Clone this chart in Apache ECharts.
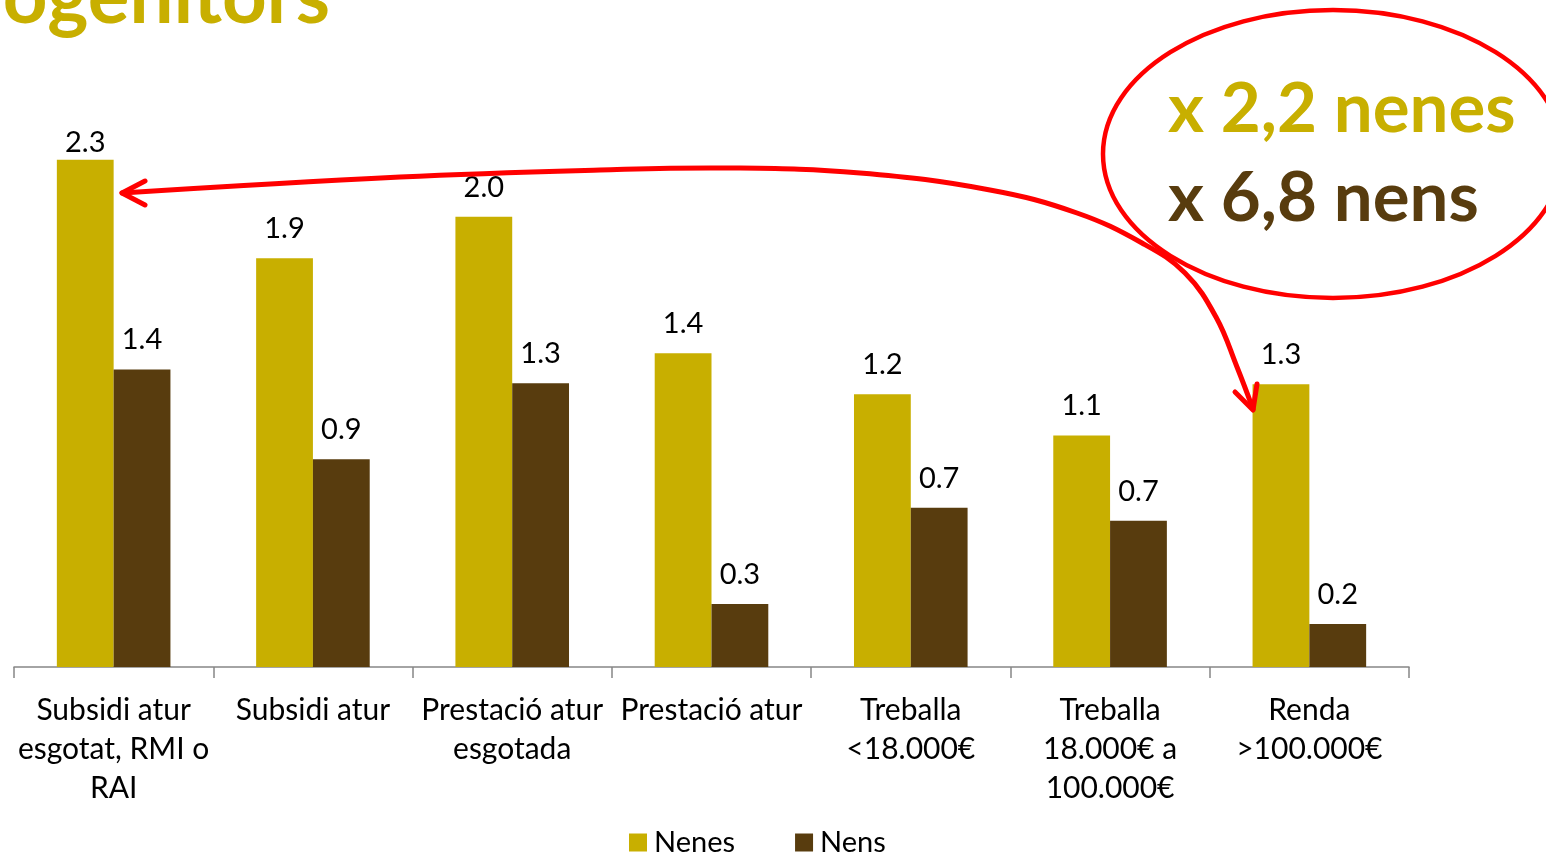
<!DOCTYPE html>
<html>
<head>
<meta charset="utf-8">
<title>Progenitors</title>
<script src="https://cdn.jsdelivr.net/npm/echarts@6/dist/echarts.min.js"></script>
<style>
  html, body { margin: 0; padding: 0; background: #fff; }
  #chart { width: 1546px; height: 853px; }
</style>
</head>
<body>
<div id="chart"></div>
<script>
// categories (situació del progenitor)
const categories = [
  'Subsidi atur\nesgotat, RMI o\nRAI',
  'Subsidi atur',
  'Prestació atur\nesgotada',
  'Prestació atur',
  'Treballa\n<18.000€',
  'Treballa\n18.000€ a\n100.000€',
  'Renda\n>100.000€',
];
// values
const nenes = [2.306, 1.858, 2.047, 1.426, 1.24, 1.052, 1.285];
const nens = [1.352, 0.944, 1.29, 0.286, 0.724, 0.665, 0.195];
const seriesNames = ['Nenes', 'Nens'];

const GOLD = '#C8AF00';
const BROWN = '#583C0E';
const RED = '#FF0000';
const FONT = 'Lato, "Open Sans", sans-serif';

const chart = echarts.init(document.getElementById('chart'));

const fmt = (p) => (Math.round(p.value * 10) / 10).toFixed(1);

const labelStyle = {
  show: true,
  position: 'top',
  distance: 15,
  color: '#000',
  fontSize: 29,
  fontFamily: FONT,
  formatter: fmt,
};

// curved double arrow from the first bar to the last one
const arrowPath = [
  [122, 193], [400, 177], [600, 170], [730, 168], [860, 173], [990, 190],
  [1077, 213], [1142, 243], [1185, 273], [1216, 317], [1237, 367], [1253, 409],
];

const option = {
  animation: false,
  grid: {
    left: 14,
    right: 137,
    top: 117,
    bottom: 186,
  },
  legend: {
    left: 624,
    top: 823,
    itemWidth: 18,
    itemHeight: 18,
    itemGap: 60,
    icon: 'rect',
    textStyle: { fontSize: 29, color: '#000', fontFamily: FONT, padding: [0, 0, 0, 2] },
    data: seriesNames,
  },
  xAxis: {
    type: 'category',
    data: categories,
    axisLine: { lineStyle: { color: '#868686', width: 1.5 } },
    axisTick: { show: true, length: 11, lineStyle: { color: '#868686', width: 1.5 } },
    axisLabel: {
      margin: 24,
      color: '#000',
      fontSize: 30,
      lineHeight: 39,
      fontFamily: FONT,
      interval: 0,
    },
  },
  yAxis: {
    type: 'value',
    min: 0,
    max: 2.5,
    show: false,
    splitLine: { show: false },
  },
  series: [
    {
      name: seriesNames[0],
      type: 'bar',
      barGap: 0,
      barCategoryGap: '43%',
      itemStyle: { color: GOLD },
      label: labelStyle,
      data: nenes.map((v, i) => (i === 0 ? { value: v, label: { distance: 3 } } : v)),
    },
    {
      name: seriesNames[1],
      type: 'bar',
      itemStyle: { color: BROWN },
      label: labelStyle,
      data: nens,
    },
  ],
  graphic: [
    {
      type: 'text',
      x: 330,
      y: -2,
      style: {
        text: 'ogenitors',
        fill: GOLD,
        font: 'bold 78px ' + FONT,
        align: 'right',
        verticalAlign: 'middle',
      },
    },
    {
      type: 'polyline',
      shape: { points: arrowPath, smooth: 0.4 },
      style: { stroke: RED, lineWidth: 5, fill: null, lineCap: 'round' },
      z: 100,
    },
    {
      type: 'polyline',
      shape: { points: [[145, 181], [122, 193], [145, 205]] },
      style: { stroke: RED, lineWidth: 5, fill: null, lineCap: 'round', lineJoin: 'round' },
      z: 100,
    },
    {
      type: 'polyline',
      shape: { points: [[1235, 392], [1253, 410], [1257, 384]] },
      style: { stroke: RED, lineWidth: 5, fill: null, lineCap: 'round', lineJoin: 'round' },
      z: 100,
    },
    {
      type: 'ellipse',
      shape: { cx: 1333, cy: 154, rx: 230, ry: 144 },
      style: { stroke: RED, lineWidth: 4.5, fill: null },
      z: 100,
    },
    {
      type: 'text',
      x: 1168,
      y: 110,
      style: {
        text: 'x 2,2 nenes',
        fill: GOLD,
        font: 'bold 69px ' + FONT,
        verticalAlign: 'middle',
      },
      z: 101,
    },
    {
      type: 'text',
      x: 1168,
      y: 199,
      style: {
        text: 'x 6,8 nens',
        fill: BROWN,
        font: 'bold 69px ' + FONT,
        verticalAlign: 'middle',
      },
      z: 101,
    },
  ],
};

chart.setOption(option);
</script>
</body>
</html>
